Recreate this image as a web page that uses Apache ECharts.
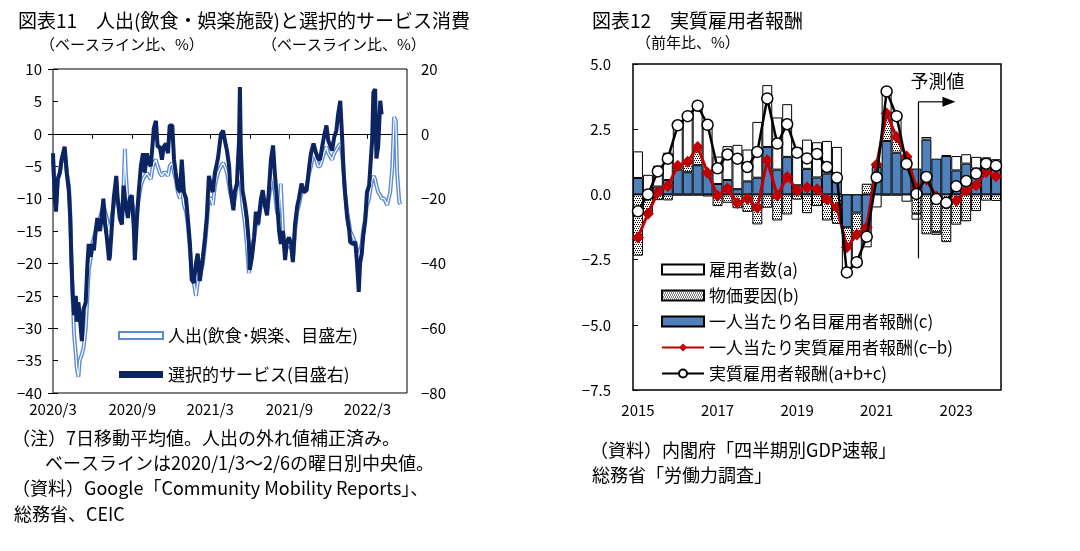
<!DOCTYPE html>
<html>
<head>
<meta charset="utf-8">
<script src="https://cdn.jsdelivr.net/npm/echarts@6.0.0/dist/echarts.min.js"></script>
<style>
html,body{margin:0;padding:0;background:#fff}
#main{width:1080px;height:551px}
</style>
</head>
<body>
<div id="main"></div>
<script>
var FONT = '"Noto Sans CJK JP", "Noto Sans", sans-serif';

// 図表11: 日数 (2020/3/1 起点)、人出(左目盛)、選択的サービス(右目盛)
var baseDate = '2020-03-01';
var endDate = '2022-06-01';
var days = [0,4,7,11,16,20,27,32,37,40,
  43,46,49,53,55,59,62,67,71,76,
  80,83,88,91,95,99,103,109,113,117,
  121,125,130,132,136,141,147,150,155,160,
  164,167,169,174,178,183,188,190,195,199,
  204,209,213,218,222,227,232,234,239,243,
  248,253,257,262,267,271,277,281,285,290,
  295,299,304,309,313,318,322,327,332,336,
  341,348,353,357,362,367,371,376,383,390,
  395,399,404,409,411,415,419,422,427,432,
  434,436,440,446,450,455,457,462,467,471,
  476,483,487,492,497,501,506,511,515,520,
  525,529,534,539,543,548,553,557,562,567,
  571,577,583,589,595,599,605,611,615,620,
  625,629,635,639,643,648,653,658,662,667,
  671,675,678,683,688,690,697,702,706,710,
  713,717,720,725,729,734,736,741,744,748,
  751,755,760,763,769,776,783,788,792,796,
  799,804,807];
var mobility = [-4,-9,-11,-7,-6,-4,-2.5,-6,-8,-12,
  -20,-26,-31,-34,-36,-37.5,-35,-34,-33,-30,
  -25,-21,-19,-17,-16,-15,-14,-13,-12,-11,
  -12,-13,-15,-15,-13,-11,-8,-10,-12,-13,
  -8,-2.3,-6,-11,-10,-10,-13,-15,-12,-10,
  -8,-7,-7,-6,-6.5,-7,-5,-4.5,-4,-5,
  -6,-6.5,-6,-6,-6.5,-5,-4.5,-6,-7,-9,
  -10,-8,-11,-12,-14,-18,-21,-23,-25,-23,
  -22,-20,-17,-14,-10,-10,-11,-8,-6,-5,
  -4.5,-5,-6,-8,-9,-10,-11,-10,-8,-7,
  -6,-8,-11,-14,-17,-21.5,-20,-18,-16,-14,
  -14,-11,-10,-11,-12,-10,-8,-6,-9,-12,
  -13,-7.7,-15,-18,-18,-17,-17.5,-19.5,-15,-12,
  -11,-9,-9,-8,-6,-5,-3,-4,-5,-5,
  -4,-3,-2,-3,-3,-4,-3,-2.5,-2,-1.5,
  -3,-6,-9,-12,-14,-15,-16,-17,-18,-19,
  -18,-17,-15,-13,-11,-10,-9,-7,-6.5,-7,
  -8,-9,-9.5,-10,-10,-11,-9,-5,2.6,2,
  -6,-10.5,-10.9];
var services = [-6,-20,-24,-14,-12,-8,-4,-12,-18,-26,
  -40,-50,-56,-50,-58,-52,-56,-64,-54,-52,
  -40,-34,-38,-34,-36,-30,-26,-30,-26,-20,
  -28,-32,-39,-38,-30,-20,-13,-20,-26,-28,
  -16,-20,-22,-26,-20,-19,-30,-39,-26,-18,
  -10,-6,-12,-6,-9,-10,-2,1.6,4,-4,
  -4,-8,-4,-3,-6,2.6,2.6,-8,-12,-16.8,
  -18,-8,-18,-20,-26,-34,-45,-46,-40,-37,
  -45.4,-38,-32,-26,-13,-16,-18,-12,-7.6,0,
  1,-2,-5.2,-10,-15.4,-20,-23.6,-18,-15.4,-2,
  14.4,-4,-17.4,-22,-26,-34,-42,-38,-32,-24,
  -28,-20,-17.4,-22,-25.2,-18,-8,-3.6,-12,-20,
  -30,-34,-30,-39,-33.4,-32,-34,-39.6,-28,-22.4,
  -20,-15.4,-18,-17.4,-10,-6,-3,-6,-7.6,-8,
  -4,-1,2.6,-2,-2,-5.2,-1,1,6,10.2,
  0,-12.2,-18,-25.8,-30,-33.4,-34,-33.4,-40,-48.8,
  -40,-37,-32,-26.8,-18,-16,-12,-2,12.8,13.8,
  -7.6,-4,10.2,6,null,null,null,null,null,null,
  null,null,null];
var leftTickDates = ['2020-06-01','2020-09-01','2020-12-01','2021-03-01','2021-06-01','2021-09-01','2021-12-01','2022-03-01'];
var leftLabelDates = ['2020-03-01','2020-09-01','2021-03-01','2021-09-01','2022-03-01'];

// 図表12: 四半期 2015Q1〜2024Q1
var quarters = ['2015Q1','2015Q2','2015Q3','2015Q4','2016Q1','2016Q2','2016Q3','2016Q4',
  '2017Q1','2017Q2','2017Q3','2017Q4','2018Q1','2018Q2','2018Q3','2018Q4',
  '2019Q1','2019Q2','2019Q3','2019Q4','2020Q1','2020Q2','2020Q3','2020Q4',
  '2021Q1','2021Q2','2021Q3','2021Q4','2022Q1','2022Q2','2022Q3','2022Q4',
  '2023Q1','2023Q2','2023Q3','2023Q4','2024Q1'];
var employees = [1.02,0.75,0.8,1.05,1.55,1.75,1.58,1.85,1.05,1.3,1.7,1.22,2.14,2.37,2.0,2.02,1.45,1.12,1.35,1.25,1.19,-0.96,-1.06,-0.36,-0.5,0.85,0.8,-0.28,-0.23,0.1,-0.1,0.04,0.55,0.36,0.45,0.32,0.4];
var prices = [-2.35,-0.7,-0.22,-0.23,0.15,0.4,0.7,-0.08,-0.45,-0.32,-0.53,-0.67,-1.15,-0.51,-1.0,-0.77,-0.2,-0.72,-0.45,-1.0,-1.13,-0.77,-0.84,0.41,0.1,1.05,0.6,0.45,-0.74,-1.53,-1.45,-1.83,-1.16,-1.03,-0.64,-0.24,-0.25];
var nominal = [0.63,-0.05,0.3,0.55,0.95,0.85,1.12,0.9,0.4,0.55,0.2,0.5,0.64,1.82,0.95,1.44,0.35,0.98,0.65,0.8,0.63,-1.26,-0.7,-1.67,1.05,2.05,1.6,1.0,0.99,2.1,1.37,1.47,0.92,1.18,0.99,1.1,0.95];
var realPerHead = [-1.65,-0.74,0.08,0.32,1.1,1.25,1.82,0.83,-0.05,0.23,-0.33,-0.17,-0.51,1.31,-0.05,0.67,0.15,0.26,0.2,-0.2,-0.5,-2.03,-1.54,-1.26,1.15,3.1,2.2,1.45,0.25,0.57,-0.08,-0.36,-0.24,0.15,0.35,0.86,0.7];
var realTotal = [-0.65,0.0,0.88,1.37,2.65,3.0,3.4,2.67,1.0,1.53,1.37,1.05,1.63,3.68,1.95,2.69,1.6,1.38,1.55,1.05,0.64,-2.99,-2.6,-1.62,0.65,3.95,3.0,1.17,0.02,0.67,-0.18,-0.32,0.31,0.51,0.8,1.18,1.1];
var forecastStart = '2022Q1';

function toDate(s) {
  var p = s.split('-');
  return new Date(+p[0], +p[1] - 1, +p[2]);
}
// 日付 -> 2020/3/1 からの日数
function dayOf(s) {
  return Math.round((toDate(s) - toDate(baseDate)) / 86400000);
}
function labelOf(d) {
  var b = toDate(baseDate);
  var t = new Date(b.getFullYear(), b.getMonth(), b.getDate() + Math.round(d));
  return t.getFullYear() + '/' + (t.getMonth() + 1);
}
function minus(v) {
  return String(v).replace('-', '\u2212');
}

var mobData = [], svcData = [];
for (var i = 0; i < days.length; i++) {
  mobData.push([days[i], mobility[i]]);
  if (services[i] !== null) svcData.push([days[i], services[i]]);
}

// 物価要因のドット柄
function dotPattern() {
  var cv = document.createElement('canvas');
  cv.width = 4; cv.height = 4;
  var ctx = cv.getContext('2d');
  ctx.fillStyle = '#fff';
  ctx.fillRect(0, 0, 4, 4);
  ctx.fillStyle = '#000';
  ctx.fillRect(0, 0, 1, 1);
  ctx.fillRect(2, 0, 1, 1);
  ctx.fillRect(1, 2, 1, 1);
  ctx.fillRect(3, 2, 1, 1);
  return cv;
}

var myChart = echarts.init(document.getElementById('main'));
var axisText = { color: '#000', fontSize: 15, fontFamily: FONT };
var dMax = dayOf(endDate);

var option = {
  animation: false,
  textStyle: { fontFamily: FONT, color: '#000' },
  grid: [
    { left: 53, top: 69, width: 354, height: 324, show: true, borderColor: '#000', borderWidth: 1 },
    { left: 633, top: 64, width: 368, height: 326, show: true, borderColor: '#000', borderWidth: 1.5 }
  ],
  legend: [{
    data: [
      { name: '人出(飲食･娯楽、目盛左)', icon: 'rect', itemStyle: { color: '#fff', borderColor: '#5b8bd4', borderWidth: 2 } },
      { name: '選択的サービス(目盛右)', icon: 'rect', itemStyle: { color: '#0c2461' } }
    ],
    orient: 'vertical', left: 113, top: 322, itemWidth: 44, itemHeight: 7, itemGap: 22,
    textStyle: { fontSize: 17, color: '#000', fontFamily: FONT }
  }, {
    data: [
      { name: '雇用者数(a)', icon: 'rect' },
      { name: '物価要因(b)', icon: 'rect' },
      { name: '一人当たり名目雇用者報酬(c)', icon: 'rect' },
      '一人当たり実質雇用者報酬(c\u2212b)',
      '実質雇用者報酬(a+b+c)'
    ],
    orient: 'vertical', left: 656, top: 256, itemWidth: 42, itemHeight: 10, itemGap: 9,
    textStyle: { fontSize: 17, color: '#000', fontFamily: FONT }
  }],
  xAxis: [{
    type: 'value', gridIndex: 0, min: 0, max: dMax,
    axisLine: { show: false, onZero: false }, axisTick: { show: false }, splitLine: { show: false },
    axisLabel: Object.assign({
      customValues: leftLabelDates.map(dayOf), margin: 9, hideOverlap: false,
      formatter: labelOf
    }, axisText)
  }, {
    type: 'value', gridIndex: 0, position: 'top', min: 0, max: dMax,
    axisLine: { show: true, onZero: true, lineStyle: { color: '#000', width: 1 } },
    axisTick: { show: true, inside: true, length: 5, customValues: leftTickDates.map(dayOf), lineStyle: { color: '#000' } },
    axisLabel: { show: false }, splitLine: { show: false }
  }, {
    type: 'category', gridIndex: 1, data: quarters, position: 'bottom',
    axisLine: { show: false, onZero: false }, axisTick: { show: false },
    axisLabel: Object.assign({ interval: 7, margin: 13, formatter: function (v) { return v.slice(0, 4); } }, axisText)
  }, {
    type: 'category', gridIndex: 1, data: quarters, position: 'top',
    axisLine: { show: true, onZero: true, lineStyle: { color: '#000', width: 1.5 } },
    axisTick: { show: false }, axisLabel: { show: false }
  }],
  yAxis: [{
    type: 'value', gridIndex: 0, min: -40, max: 10, interval: 5, position: 'left',
    axisLine: { show: false }, splitLine: { show: false },
    axisTick: { show: true, inside: true, length: 5, lineStyle: { color: '#000' } },
    axisLabel: Object.assign({ margin: 11, formatter: minus }, axisText)
  }, {
    type: 'value', gridIndex: 0, min: -80, max: 20, interval: 20, position: 'right',
    axisLine: { show: false }, splitLine: { show: false },
    axisTick: { show: true, inside: true, length: 5, lineStyle: { color: '#000' } },
    axisLabel: Object.assign({ margin: 14, formatter: minus }, axisText)
  }, {
    type: 'value', gridIndex: 1, min: -7.5, max: 5, interval: 2.5,
    axisLine: { show: false }, splitLine: { show: false },
    axisTick: { show: true, inside: true, length: 5, lineStyle: { color: '#000' } },
    axisLabel: Object.assign({ margin: 22, formatter: function (v) { return minus(v.toFixed(1)); } }, axisText)
  }],
  series: [{
    name: '人出(飲食･娯楽、目盛左)', type: 'line', xAxisIndex: 0, yAxisIndex: 0,
    data: mobData, symbol: 'none', z: 2,
    lineStyle: { color: '#5b8bd4', width: 4 }, itemStyle: { color: '#5b8bd4' }
  }, {
    name: 'mobility-inner', type: 'line', xAxisIndex: 0, yAxisIndex: 0,
    data: mobData, symbol: 'none', z: 3, silent: true,
    lineStyle: { color: '#fff', width: 1.2 }
  }, {
    name: '選択的サービス(目盛右)', type: 'line', xAxisIndex: 0, yAxisIndex: 1,
    data: svcData, symbol: 'none', z: 4,
    lineStyle: { color: '#0c2461', width: 4 }, itemStyle: { color: '#0c2461' }
  }, {
    name: '一人当たり名目雇用者報酬(c)', type: 'bar', xAxisIndex: 2, yAxisIndex: 2, stack: 'total',
    data: nominal, barCategoryGap: '0%',
    itemStyle: { color: '#4f81bd', borderColor: '#000', borderWidth: 1 }
  }, {
    name: '物価要因(b)', type: 'bar', xAxisIndex: 2, yAxisIndex: 2, stack: 'total',
    data: prices, barCategoryGap: '0%',
    itemStyle: { color: { image: dotPattern(), repeat: 'repeat' }, borderColor: '#000', borderWidth: 1 }
  }, {
    name: '雇用者数(a)', type: 'bar', xAxisIndex: 2, yAxisIndex: 2, stack: 'total',
    data: employees, barCategoryGap: '0%',
    itemStyle: { color: '#fff', borderColor: '#000', borderWidth: 1 }
  }, {
    name: '一人当たり実質雇用者報酬(c\u2212b)', type: 'line', xAxisIndex: 2, yAxisIndex: 2,
    data: realPerHead, symbol: 'diamond', symbolSize: 12, showAllSymbol: true, z: 5,
    lineStyle: { color: '#c00000', width: 3 }, itemStyle: { color: '#c00000' }
  }, {
    name: '実質雇用者報酬(a+b+c)', type: 'line', xAxisIndex: 2, yAxisIndex: 2,
    data: realTotal, symbol: 'circle', symbolSize: 11, showAllSymbol: true, z: 6,
    lineStyle: { color: '#000', width: 2.5 },
    itemStyle: { color: '#fff', borderColor: '#000', borderWidth: 1.5 }
  }]
};
myChart.setOption(option);

// 文字と予測値の矢印
function txt(s, x, y, size) {
  return { type: 'text', left: x, top: y, style: { text: s, fill: '#000', font: size + 'px ' + FONT } };
}
var fx = myChart.convertToPixel({ xAxisIndex: 2 }, forecastStart) + 2;
var fTop = myChart.convertToPixel({ yAxisIndex: 2 }, 3.55);
var fBot = myChart.convertToPixel({ yAxisIndex: 2 }, -2.45);

myChart.setOption({
  graphic: [
    txt('図表11　人出(飲食・娯楽施設)と選択的サービス消費', 18, 11, 19),
    txt('（ベースライン比、%）', 40, 37, 15),
    txt('（ベースライン比、%）', 262, 37, 15),
    txt('（注）7日移動平均値。人出の外れ値補正済み。', 12, 429, 18),
    txt('ベースラインは2020/1/3～2/6の曜日別中央値。', 45, 454, 18),
    txt('（資料）Google「Community Mobility Reports」、', 12, 479, 18),
    txt('総務省、CEIC', 14, 505, 18),
    txt('図表12　実質雇用者報酬', 592, 11, 19),
    txt('（前年比、%）', 636, 35, 15),
    txt('（資料）内閣府「四半期別GDP速報」', 590, 441, 18),
    txt('総務省「労働力調査」', 592, 466, 18),
    txt('予測値', fx - 8, fTop - 30, 18),
    { type: 'line', shape: { x1: fx, y1: fTop, x2: fx, y2: fBot }, style: { stroke: '#000', lineWidth: 1.2 }, z: 20 },
    { type: 'line', shape: { x1: fx, y1: fTop, x2: fx + 26, y2: fTop }, style: { stroke: '#000', lineWidth: 1.2 }, z: 20 },
    { type: 'polygon', shape: { points: [[fx + 24, fTop - 5], [fx + 37, fTop], [fx + 24, fTop + 5]] }, style: { fill: '#000' }, z: 20 }
  ]
});

window.addEventListener('resize', function () {
  myChart.resize();
});
</script>
</body>
</html>
